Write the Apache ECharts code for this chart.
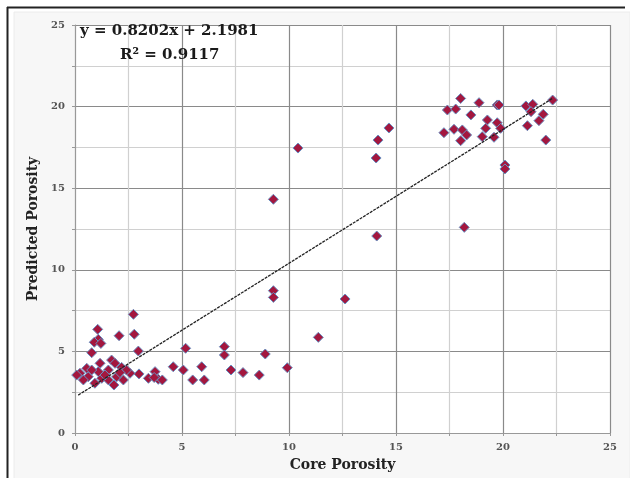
<!DOCTYPE html>
<html><head><meta charset="utf-8">
<script src="https://cdn.jsdelivr.net/npm/echarts@6/dist/echarts.min.js"></script>
<style>html,body{margin:0;padding:0;background:#fff}#c{width:630px;height:478px}</style>
</head><body><div id="c"></div>
<script>
// Core porosity (x) vs predicted porosity (y)
const coreX = [
  18.02,18.88,19.73,19.81,17.40,17.79,18.50,21.07,21.39,22.32,21.88,21.68,21.14,21.31,17.24,17.71,18.10,18.30,18.02,19.27,19.19,19.73,19.89,19.03,19.58,22.00,20.09,20.09,18.19,
  9.27,9.27,9.27,12.62,10.42,14.10,14.67,14.07,14.16,11.37,
  2.73,1.06,2.06,2.77,1.09,0.90,1.21,0.78,2.96,5.17,6.98,6.98,8.89,9.92,4.59,5.06,5.92,5.50,6.04,7.29,7.85,8.61,
  3.43,3.74,3.89,4.08,3.70,2.99,2.57,2.18,2.26,1.82,1.95,1.71,1.87,1.56,1.17,1.09,0.93,1.25,0.62,0.39,0.23,0.08,0.55,0.78,1.56,2.41,1.40,2.10
];
const predY = [
  20.50,20.24,20.10,20.10,19.79,19.85,19.49,20.04,20.14,20.40,19.53,19.14,18.83,19.69,18.40,18.61,18.57,18.26,17.91,19.18,18.67,19.01,18.67,18.16,18.12,17.95,16.42,16.18,12.60,
  14.32,8.72,8.31,8.21,17.46,12.07,18.69,16.85,17.95,5.86,
  7.27,6.35,5.96,6.05,5.74,5.56,5.49,4.92,5.02,5.19,5.29,4.78,4.84,4.00,4.06,3.86,4.06,3.25,3.25,3.86,3.70,3.55,
  3.35,3.76,3.29,3.25,3.40,3.62,3.66,4.02,3.25,2.94,3.45,4.47,4.27,3.86,4.27,3.76,3.05,3.35,3.45,3.25,3.66,3.55,3.96,3.86,3.25,3.86,3.55,3.70
];
const trendX = [0.15, 22.30];
const trendY = [2.32, 20.49];
const xTicks = [0, 5, 10, 15, 20, 25];
const yTicks = [0, 5, 10, 15, 20, 25];
const equationText = 'y = 0.8202x + 2.1981';
const r2Text = 'R² = 0.9117';
const xTitle = 'Core Porosity';
const yTitle = 'Predicted Porosity';

const pts = coreX.map((x, i) => [x, predY[i]]);
const trend = trendX.map((x, i) => [x, trendY[i]]);
const serif2 = '"DejaVu Serif", "Liberation Serif", serif';

const chart = echarts.init(document.getElementById('c'), null, {renderer: 'canvas'});
chart.setOption({
  animation: false,
  backgroundColor: '#ffffff',
  graphic: [
    {type: 'rect', shape: {x: 14, y: 12, width: 616, height: 470}, style: {fill: '#f7f7f7', stroke: '#ececec', lineWidth: 1}, z: -10},
    {type: 'rect', shape: {x: 75, y: 25, width: 535, height: 408}, style: {fill: '#ffffff'}, z: -9},
    {type: 'line', shape: {x1: 7.5, y1: 7, x2: 7.5, y2: 478}, style: {stroke: '#222', lineWidth: 2}, z: 10},
    {type: 'line', shape: {x1: 7, y1: 7.5, x2: 625, y2: 7.5}, style: {stroke: '#222', lineWidth: 2}, z: 10},
    {type: 'text', left: 80, top: 24, style: {text: equationText, font: 'bold 15px ' + serif2, fill: '#1a1a1a'}, z: 20},
    {type: 'text', left: 120, top: 48, style: {text: r2Text, font: 'bold 15px ' + serif2, fill: '#1a1a1a'}, z: 20}
  ],
  grid: {left: 75, right: 20, top: 25, bottom: 45, containLabel: false},
  xAxis: {
    type: 'value', min: 0, max: 25, interval: 5,
    name: xTitle, nameLocation: 'middle', nameGap: 25,
    nameTextStyle: {fontFamily: serif2, fontWeight: 'bold', fontSize: 14, color: '#222'},
    axisLine: {show: true, lineStyle: {color: '#999', width: 1}},
    axisTick: {show: true, length: 3, lineStyle: {color: '#999'}},
    minorTick: {show: true, splitNumber: 2, length: 3, lineStyle: {color: '#999'}},
    axisLabel: {fontFamily: serif2, fontWeight: 'bold', fontSize: 10, color: '#555', margin: 9,
      formatter: v => xTicks.includes(v) ? String(v) : ''},
    splitLine: {show: true, lineStyle: {color: '#8a8a8a', width: 1.2}},
    minorSplitLine: {show: true, lineStyle: {color: '#d0d0d0', width: 1.2}}
  },
  yAxis: {
    type: 'value', min: 0, max: 25, interval: 5,
    name: yTitle, nameLocation: 'middle', nameGap: 24, nameRotate: 90,
    nameTextStyle: {fontFamily: serif2, fontWeight: 'bold', fontSize: 14, color: '#222'},
    axisLine: {show: true, lineStyle: {color: '#999', width: 1}},
    axisTick: {show: true, length: 3, lineStyle: {color: '#999'}},
    minorTick: {show: true, splitNumber: 2, length: 3, lineStyle: {color: '#999'}},
    axisLabel: {fontFamily: serif2, fontWeight: 'bold', fontSize: 10, color: '#555', margin: 10,
      formatter: v => yTicks.includes(v) ? String(v) : ''},
    splitLine: {show: true, lineStyle: {color: '#8a8a8a', width: 1.2}},
    minorSplitLine: {show: true, lineStyle: {color: '#d0d0d0', width: 1.2}}
  },
  series: [
    {
      type: 'scatter', data: pts, symbol: 'diamond', symbolSize: 10,
      itemStyle: {color: '#a3173f', borderColor: '#6a8fc0', borderWidth: 1, opacity: 1},
      z: 3
    },
    {
      type: 'line', data: trend, showSymbol: false, symbol: 'none',
      lineStyle: {color: '#222', width: 1.3, type: [3, 1]}, z: 4
    }
  ]
});
</script>
</body></html>
